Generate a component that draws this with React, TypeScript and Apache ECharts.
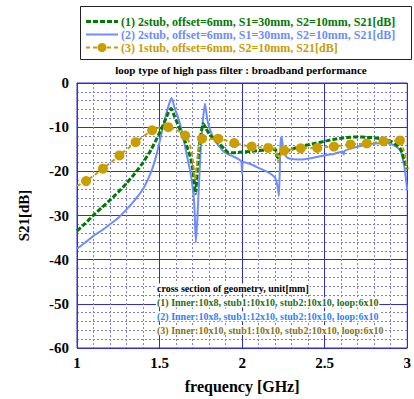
import React, { useEffect, useRef } from "react";
import * as echarts from "echarts";

// ---- data ----
const greenF = [1.0, 1.05, 1.1, 1.15, 1.2, 1.25, 1.3, 1.35, 1.4, 1.45, 1.5, 1.53, 1.555, 1.57, 1.59, 1.62, 1.65, 1.67, 1.69, 1.705, 1.718, 1.73, 1.745, 1.765, 1.78, 1.8, 1.83, 1.86, 1.89, 1.92, 1.95, 2.0, 2.05, 2.1, 2.15, 2.2, 2.215, 2.23, 2.26, 2.3, 2.35, 2.4, 2.45, 2.5, 2.55, 2.6, 2.65, 2.7, 2.75, 2.8, 2.85, 2.9, 2.93, 2.96, 2.98, 3.0];
const greenDb = [-33.5, -31.8, -29.9, -28.2, -26.5, -24.7, -22.7, -20.5, -18.0, -15.0, -11.3, -8.8, -6.6, -5.8, -7.5, -10.2, -12.8, -14.8, -17.3, -20.5, -25.0, -18.5, -13.0, -9.2, -10.2, -11.5, -12.8, -13.7, -14.8, -15.8, -15.8, -15.6, -15.5, -15.3, -15.2, -15.0, -16.9, -16.0, -15.6, -15.0, -14.4, -14.0, -13.6, -13.2, -12.8, -12.5, -12.3, -12.2, -12.3, -12.4, -12.7, -13.2, -13.9, -15.0, -17.2, -19.5];

const blueF = [1.0, 1.05, 1.1, 1.15, 1.2, 1.25, 1.3, 1.35, 1.4, 1.45, 1.48, 1.51, 1.54, 1.56, 1.573, 1.59, 1.62, 1.64, 1.66, 1.68, 1.695, 1.71, 1.72, 1.73, 1.745, 1.76, 1.775, 1.79, 1.81, 1.835, 1.86, 1.89, 1.92, 1.95, 1.98, 1.995, 2.0, 2.005, 2.03, 2.06, 2.1, 2.14, 2.17, 2.2, 2.215, 2.223, 2.232, 2.239, 2.25, 2.27, 2.3, 2.36, 2.42, 2.46, 2.5, 2.56, 2.61, 2.615, 2.62, 2.66, 2.71, 2.76, 2.81, 2.86, 2.9, 2.93, 2.96, 2.98, 2.99, 3.0];
const blueDb = [-37.5, -36.1, -34.6, -33.4, -32.0, -30.5, -28.6, -26.5, -24.0, -20.0, -16.5, -11.7, -7.0, -4.5, -3.4, -5.5, -8.7, -11.8, -15.4, -19.0, -22.1, -27.3, -36.1, -30.0, -18.0, -9.5, -4.7, -8.5, -11.0, -13.0, -14.3, -15.6, -16.2, -16.7, -17.3, -17.8, -20.6, -17.9, -18.1, -18.5, -19.2, -19.9, -20.5, -21.5, -23.5, -25.6, -14.0, -12.1, -15.3, -16.8, -17.2, -17.3, -17.0, -16.7, -16.4, -16.0, -15.5, -16.2, -15.4, -14.8, -14.3, -13.9, -13.7, -13.6, -13.8, -14.3, -15.4, -18.4, -21.0, -24.3];

const goldF = [1.0, 1.055, 1.157, 1.257, 1.355, 1.455, 1.5, 1.553, 1.6, 1.655, 1.68, 1.7, 1.715, 1.73, 1.757, 1.855, 1.952, 2.058, 2.158, 2.2, 2.22, 2.24, 2.255, 2.355, 2.455, 2.556, 2.656, 2.755, 2.856, 2.956, 2.97, 2.99, 3.0];
const goldDb = [-23.3, -22.2, -19.4, -16.4, -13.4, -10.7, -10.1, -10.0, -10.6, -11.9, -13.5, -17.0, -21.8, -17.0, -12.6, -12.6, -13.6, -14.4, -14.7, -15.0, -17.8, -15.5, -15.3, -14.8, -14.7, -14.4, -13.9, -13.7, -13.2, -13.0, -14.0, -17.0, -19.5];

const goldMarkF = [1.055, 1.157, 1.257, 1.355, 1.455, 1.553, 1.655, 1.757, 1.855, 1.952, 2.058, 2.158, 2.255, 2.355, 2.455, 2.556, 2.656, 2.755, 2.856, 2.956];
const goldMarkDb = [-22.2, -19.4, -16.4, -13.4, -10.7, -10.0, -11.9, -12.6, -12.6, -13.6, -14.4, -14.7, -15.3, -14.8, -14.7, -14.4, -13.9, -13.7, -13.2, -13.0];

const legendLabels = [
  "(1) 2stub, offset=6mm, S1=30mm, S2=10mm, S21[dB]",
  "(2) 2stub, offset=6mm, S1=30mm, S2=10mm, S21[dB]",
  "(3) 1stub, offset=6mm, S2=10mm, S21[dB]",
];
const noteTitle = "cross section of geometry, unit[mm]";
const noteLines = [
  "(1) Inner:10x8, stub1:10x10, stub2:10x10, loop:6x10",
  "(2) Inner:10x8, stub1:12x10, stub2:10x10, loop:6x10",
  "(3) Inner:10x10, stub1:10x10, stub2:10x10, loop:6x10",
];
const chartTitle = "loop type of high pass filter : broadband performance";

const GREEN = "#007a00";
const BLUE = "#6f8cff";
const GOLD = "#c89e00";
const NOTE_COLORS = ["#1e6e1e", "#2f7fff", "#857418"];
const SERIF = "Liberation Serif";

const zip = (a: number[], b: number[]) => a.map((v, i) => [v, b[i]]);

export default function App() {
  const ref = useRef<HTMLDivElement>(null);
  useEffect(() => {
    if (!ref.current) return;
    const chart = echarts.init(ref.current, undefined, { renderer: "svg" });
    const major = "#2f2fd0";
    const minor = "#7d7de6";
    const legendColors = [GREEN, BLUE, GOLD];
    const txt = (size: number) => ({ fontFamily: SERIF, fontWeight: "bold", fontSize: size });
    const graphic: any[] = [
      {
        type: "rect",
        shape: { x: 80.5, y: 6.5, width: 331, height: 53 },
        style: { fill: "#fff", stroke: "#222", lineWidth: 1 },
      },
      {
        type: "line",
        shape: { x1: 86, y1: 21.5, x2: 118, y2: 21.5 },
        style: { stroke: GREEN, lineWidth: 3, lineDash: [5, 2] },
      },
      {
        type: "line",
        shape: { x1: 86, y1: 34.5, x2: 118, y2: 34.5 },
        style: { stroke: BLUE, lineWidth: 2 },
      },
      {
        type: "line",
        shape: { x1: 86, y1: 47.5, x2: 118, y2: 47.5 },
        style: { stroke: GOLD, lineWidth: 2, lineDash: [4, 3] },
      },
      {
        type: "circle",
        shape: { cx: 102, cy: 47.5, r: 4.5 },
        style: { fill: GOLD },
      },
      ...legendLabels.map((t, i) => ({
        type: "text",
        x: 121,
        y: 21.5 + i * 13,
        style: {
          text: t,
          fill: legendColors[i],
          ...txt(12),
          textVerticalAlign: "middle",
        },
      })),
      {
        type: "text",
        x: 241,
        y: 70,
        style: {
          text: chartTitle,
          fill: "#000",
          ...txt(11),
          textAlign: "center",
          textVerticalAlign: "middle",
        },
      },
      {
        type: "text",
        x: 156,
        y: 288.5,
        z: 100,
        style: {
          text: noteTitle,
          fill: "#000",
          ...txt(10),
          textVerticalAlign: "middle",
          backgroundColor: "#fff",
          padding: [0, 1],
        },
      },
      ...noteLines.map((t, i) => ({
        type: "text",
        x: 156,
        y: 302.5 + i * 13.8,
        z: 100,
        style: {
          text: t,
          fill: NOTE_COLORS[i],
          ...txt(10),
          textVerticalAlign: "middle",
          backgroundColor: "#fff",
          padding: [0, 1],
        },
      })),
    ];

    chart.setOption({
      animation: false,
      backgroundColor: "#fff",
      textStyle: { fontFamily: SERIF },
      grid: {
        left: 77,
        top: 83,
        width: 334,
        height: 272,
        show: true,
        borderColor: major,
        borderWidth: 1,
        backgroundColor: "transparent",
      },
      xAxis: {
        type: "value",
        min: 1,
        max: 3,
        interval: 0.5,
        name: "frequency [GHz]",
        nameLocation: "middle",
        nameGap: 30,
        nameTextStyle: { ...txt(16), color: "#000" },
        axisLine: { show: true, lineStyle: { color: major } },
        axisTick: { show: false },
        axisLabel: {
          ...txt(15),
          color: "#000",
          margin: 7,
          formatter: (v: number) => String(v),
        },
        splitLine: { show: true, lineStyle: { color: major, width: 1 } },
        minorTick: { show: false, splitNumber: 5 },
        minorSplitLine: { show: true, lineStyle: { color: minor, type: [2, 2], width: 1 } },
      },
      yAxis: {
        type: "value",
        min: -60,
        max: 0,
        interval: 10,
        name: "S21[dB]",
        nameLocation: "middle",
        nameGap: 46,
        nameTextStyle: { ...txt(15), color: "#000" },
        axisLine: { show: true, lineStyle: { color: major } },
        axisTick: { show: false },
        axisLabel: {
          ...txt(15),
          color: "#000",
          margin: 8,
        },
        splitLine: { show: true, lineStyle: { color: major, width: 1 } },
        minorTick: { show: false, splitNumber: 5 },
        minorSplitLine: { show: true, lineStyle: { color: minor, type: [2, 2], width: 1 } },
      },
      series: [
        {
          type: "line",
          name: "blue",
          data: zip(blueF, blueDb),
          showSymbol: false,
          symbol: "none",
          smooth: 0.2,
          lineStyle: { color: BLUE, width: 2 },
          z: 2,
        },
        {
          type: "line",
          name: "green",
          data: zip(greenF, greenDb),
          showSymbol: false,
          symbol: "none",
          smooth: 0.2,
          lineStyle: { color: GREEN, width: 3, type: [5, 2] },
          z: 3,
        },
        {
          type: "line",
          name: "gold",
          data: zip(goldF, goldDb),
          showSymbol: false,
          symbol: "none",
          smooth: 0.2,
          lineStyle: { color: GOLD, width: 2, type: [4, 3] },
          z: 4,
        },
        {
          type: "scatter",
          name: "goldMarks",
          data: zip(goldMarkF, goldMarkDb),
          symbol: "circle",
          symbolSize: 10,
          itemStyle: { color: GOLD, opacity: 1 },
          z: 5,
        },
      ],
      graphic,
    });
    return () => chart.dispose();
  }, []);
  return (
    <div
      ref={ref}
      style={{ position: "fixed", left: 0, top: 0, width: 414, height: 399 }}
    />
  );
}
